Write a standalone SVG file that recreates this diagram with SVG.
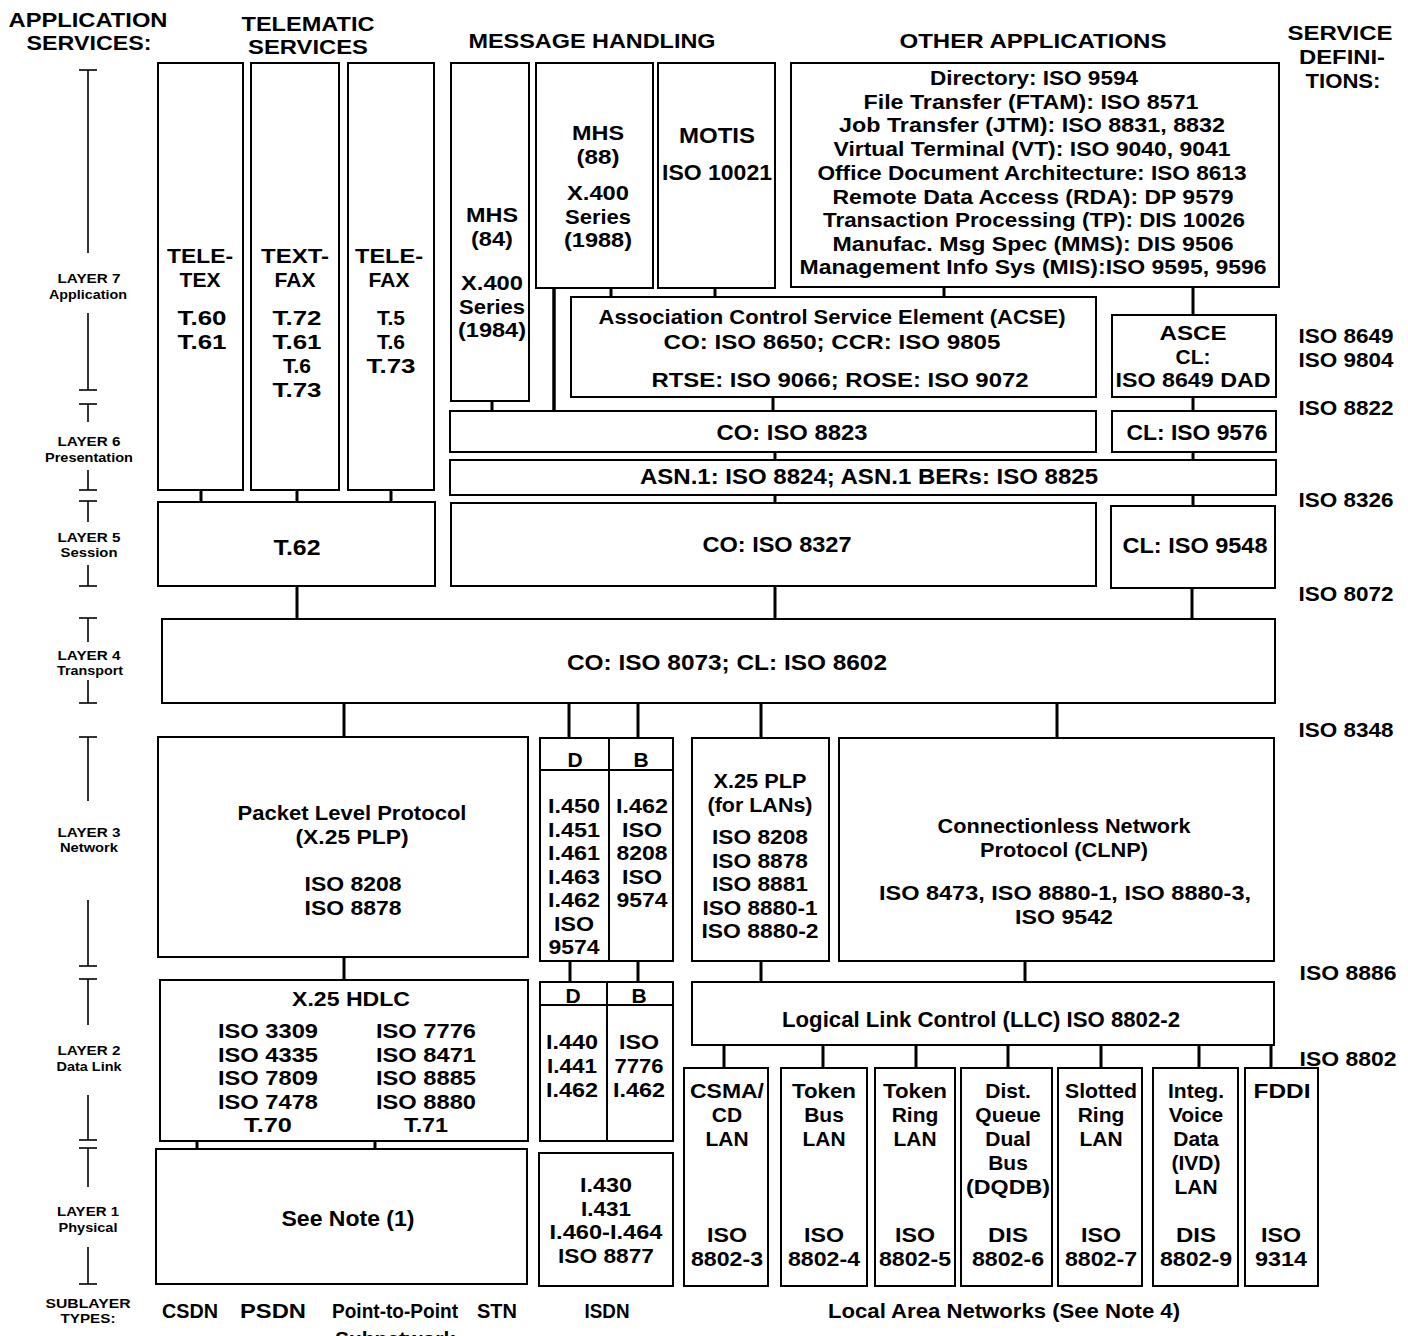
<svg xmlns="http://www.w3.org/2000/svg" width="1408" height="1336" viewBox="0 0 1408 1336">
<style>
text { font-family: "Liberation Sans", Arial, Helvetica, sans-serif; font-weight: bold; fill: #000; text-anchor: middle; font-size: 22px; }
.s { font-size: 21px; }
.hd { font-size: 20px; }
.lay { font-size: 13.5px; }
.box { fill: #fff; stroke: #000; stroke-width: 2; }
.dv { stroke: #000; stroke-width: 2; fill: none; }
.c line { stroke: #000; stroke-width: 3; }
.br line { stroke: #000; stroke-width: 1.6; }
</style>
<rect width="1408" height="1336" fill="#fff"/>

<g id="headers">
  <text class="hd" x="88" y="27" textLength="159" lengthAdjust="spacingAndGlyphs">APPLICATION</text>
  <text class="hd" x="89" y="50" textLength="125" lengthAdjust="spacingAndGlyphs">SERVICES:</text>
  <text class="hd" x="308" y="31" textLength="133" lengthAdjust="spacingAndGlyphs">TELEMATIC</text>
  <text class="hd" x="308" y="54" textLength="120" lengthAdjust="spacingAndGlyphs">SERVICES</text>
  <text class="hd" x="592" y="48" textLength="247" lengthAdjust="spacingAndGlyphs">MESSAGE HANDLING</text>
  <text class="hd" x="1033" y="48" textLength="267" lengthAdjust="spacingAndGlyphs">OTHER APPLICATIONS</text>
  <text class="hd" x="1340" y="40" textLength="105" lengthAdjust="spacingAndGlyphs">SERVICE</text>
  <text class="hd" x="1342" y="64" textLength="86" lengthAdjust="spacingAndGlyphs">DEFINI-</text>
  <text class="hd" x="1343" y="88" textLength="75" lengthAdjust="spacingAndGlyphs">TIONS:</text>
</g>

<g id="layers" class="br">
  <line x1="79" y1="70" x2="97" y2="70"/><line x1="88" y1="70" x2="88" y2="253"/><line x1="88" y1="313" x2="88" y2="390"/><line x1="79" y1="390" x2="97" y2="390"/>
  <line x1="79" y1="404" x2="97" y2="404"/><line x1="88" y1="404" x2="88" y2="422"/><line x1="88" y1="470" x2="88" y2="490"/><line x1="79" y1="490" x2="97" y2="490"/>
  <line x1="79" y1="501" x2="97" y2="501"/><line x1="88" y1="501" x2="88" y2="522"/><line x1="88" y1="565" x2="88" y2="586"/><line x1="79" y1="586" x2="97" y2="586"/>
  <line x1="79" y1="618" x2="97" y2="618"/><line x1="88" y1="618" x2="88" y2="642"/><line x1="88" y1="680" x2="88" y2="703"/><line x1="79" y1="703" x2="97" y2="703"/>
  <line x1="79" y1="737" x2="97" y2="737"/><line x1="88" y1="737" x2="88" y2="801"/><line x1="88" y1="900" x2="88" y2="966"/><line x1="79" y1="966" x2="97" y2="966"/>
  <line x1="79" y1="979" x2="97" y2="979"/><line x1="88" y1="979" x2="88" y2="1025"/><line x1="88" y1="1095" x2="88" y2="1140"/><line x1="79" y1="1140" x2="97" y2="1140"/>
  <line x1="79" y1="1148" x2="97" y2="1148"/><line x1="88" y1="1148" x2="88" y2="1187"/><line x1="88" y1="1247" x2="88" y2="1284"/><line x1="79" y1="1284" x2="97" y2="1284"/>
  <text class="lay" x="89" y="283" textLength="63" lengthAdjust="spacingAndGlyphs">LAYER 7</text><text class="lay" x="88" y="299" textLength="78" lengthAdjust="spacingAndGlyphs">Application</text>
  <text class="lay" x="89" y="446" textLength="63" lengthAdjust="spacingAndGlyphs">LAYER 6</text><text class="lay" x="89" y="462" textLength="88" lengthAdjust="spacingAndGlyphs">Presentation</text>
  <text class="lay" x="89" y="542" textLength="63" lengthAdjust="spacingAndGlyphs">LAYER 5</text><text class="lay" x="89" y="557" textLength="57" lengthAdjust="spacingAndGlyphs">Session</text>
  <text class="lay" x="89" y="660" textLength="63" lengthAdjust="spacingAndGlyphs">LAYER 4</text><text class="lay" x="90" y="675" textLength="66" lengthAdjust="spacingAndGlyphs">Transport</text>
  <text class="lay" x="89" y="837" textLength="63" lengthAdjust="spacingAndGlyphs">LAYER 3</text><text class="lay" x="89" y="852" textLength="58" lengthAdjust="spacingAndGlyphs">Network</text>
  <text class="lay" x="89" y="1055" textLength="63" lengthAdjust="spacingAndGlyphs">LAYER 2</text><text class="lay" x="89" y="1071" textLength="65" lengthAdjust="spacingAndGlyphs">Data Link</text>
  <text class="lay" x="88" y="1216" textLength="62" lengthAdjust="spacingAndGlyphs">LAYER 1</text><text class="lay" x="88" y="1232" textLength="59" lengthAdjust="spacingAndGlyphs">Physical</text>
  <text class="lay" x="88" y="1308" textLength="85" lengthAdjust="spacingAndGlyphs">SUBLAYER</text><text class="lay" x="88" y="1323" textLength="55" lengthAdjust="spacingAndGlyphs">TYPES:</text>
</g>

<g id="connectors" class="c">
  <line x1="201" y1="490" x2="201" y2="502"/>
  <line x1="297" y1="490" x2="297" y2="502"/>
  <line x1="391" y1="490" x2="391" y2="502"/>
  <line x1="492" y1="401" x2="492" y2="411"/>
  <line x1="554" y1="288" x2="554" y2="411" style="stroke-width:3.5"/>
  <line x1="611" y1="288" x2="611" y2="297"/>
  <line x1="715" y1="288" x2="715" y2="297"/>
  <line x1="944" y1="287" x2="944" y2="297"/>
  <line x1="1193" y1="287" x2="1193" y2="315"/>
  <line x1="773" y1="397" x2="773" y2="411"/>
  <line x1="1193" y1="397" x2="1193" y2="411"/>
  <line x1="775" y1="452" x2="775" y2="460"/>
  <line x1="1193" y1="452" x2="1193" y2="460"/>
  <line x1="775" y1="495" x2="775" y2="503"/>
  <line x1="1193" y1="495" x2="1193" y2="506"/>
  <line x1="297" y1="586" x2="297" y2="619"/>
  <line x1="775" y1="586" x2="775" y2="619"/>
  <line x1="1192" y1="588" x2="1192" y2="619"/>
  <line x1="344" y1="703" x2="344" y2="737"/>
  <line x1="569" y1="703" x2="569" y2="738"/>
  <line x1="638" y1="703" x2="638" y2="738"/>
  <line x1="761" y1="703" x2="761" y2="738"/>
  <line x1="1057" y1="703" x2="1057" y2="738"/>
  <line x1="344" y1="957" x2="344" y2="980"/>
  <line x1="570" y1="961" x2="570" y2="982"/>
  <line x1="638" y1="961" x2="638" y2="982"/>
  <line x1="761" y1="961" x2="761" y2="982"/>
  <line x1="1025" y1="961" x2="1025" y2="982"/>
  <line x1="197" y1="1141" x2="197" y2="1149"/>
  <line x1="375" y1="1141" x2="375" y2="1149"/>
  <line x1="724" y1="1045" x2="724" y2="1068"/>
  <line x1="823" y1="1045" x2="823" y2="1068"/>
  <line x1="916" y1="1045" x2="916" y2="1068"/>
  <line x1="1008" y1="1045" x2="1008" y2="1068"/>
  <line x1="1101" y1="1045" x2="1101" y2="1068"/>
  <line x1="1199" y1="1045" x2="1199" y2="1068"/>
  <line x1="1271" y1="1045" x2="1271" y2="1068"/>
</g>

<g id="teletex">
  <rect class="box" x="158" y="63" width="85" height="427"/>
  <text class="s" x="200" y="263" textLength="66" lengthAdjust="spacingAndGlyphs">TELE-</text><text class="s" x="200" y="287">TEX</text>
  <text class="s" x="202" y="325" textLength="49" lengthAdjust="spacingAndGlyphs">T.60</text><text class="s" x="202" y="349" textLength="49" lengthAdjust="spacingAndGlyphs">T.61</text>
</g>
<g id="textfax">
  <rect class="box" x="251" y="63" width="88" height="427"/>
  <text class="s" x="295" y="263" textLength="68" lengthAdjust="spacingAndGlyphs">TEXT-</text><text class="s" x="295" y="287">FAX</text>
  <text class="s" x="297" y="325" textLength="49" lengthAdjust="spacingAndGlyphs">T.72</text><text class="s" x="297" y="349" textLength="49" lengthAdjust="spacingAndGlyphs">T.61</text>
  <text class="s" x="297" y="373">T.6</text><text class="s" x="297" y="397" textLength="49" lengthAdjust="spacingAndGlyphs">T.73</text>
</g>
<g id="telefax">
  <rect class="box" x="348" y="63" width="86" height="427"/>
  <text class="s" x="389" y="263" textLength="68" lengthAdjust="spacingAndGlyphs">TELE-</text><text class="s" x="389" y="287">FAX</text>
  <text class="s" x="391" y="325">T.5</text><text class="s" x="391" y="349">T.6</text>
  <text class="s" x="391" y="373" textLength="49" lengthAdjust="spacingAndGlyphs">T.73</text>
</g>
<g id="t62">
  <rect class="box" x="158" y="502" width="277" height="84"/>
  <text x="297" y="555" textLength="47" lengthAdjust="spacingAndGlyphs">T.62</text>
</g>

<g id="mhs84">
  <rect class="box" x="451" y="63" width="78" height="338"/>
  <text class="s" x="492" y="222" textLength="52" lengthAdjust="spacingAndGlyphs">MHS</text><text class="s" x="492" y="246" textLength="42" lengthAdjust="spacingAndGlyphs">(84)</text>
  <text class="s" x="492" y="290" textLength="62" lengthAdjust="spacingAndGlyphs">X.400</text><text class="s" x="492" y="313.5" textLength="66" lengthAdjust="spacingAndGlyphs">Series</text>
  <text class="s" x="492" y="337" textLength="68" lengthAdjust="spacingAndGlyphs">(1984)</text>
</g>
<g id="mhs88">
  <rect class="box" x="536" y="63" width="117" height="225"/>
  <text class="s" x="598" y="140" textLength="52" lengthAdjust="spacingAndGlyphs">MHS</text><text class="s" x="598" y="163.5" textLength="43" lengthAdjust="spacingAndGlyphs">(88)</text>
  <text class="s" x="598" y="200" textLength="62" lengthAdjust="spacingAndGlyphs">X.400</text><text class="s" x="598" y="223.5" textLength="66" lengthAdjust="spacingAndGlyphs">Series</text>
  <text class="s" x="598" y="247" textLength="68" lengthAdjust="spacingAndGlyphs">(1988)</text>
</g>
<g id="motis">
  <rect class="box" x="658" y="63" width="117" height="225"/>
  <text x="717" y="143" textLength="76" lengthAdjust="spacingAndGlyphs">MOTIS</text>
  <text x="717" y="180" textLength="110" lengthAdjust="spacingAndGlyphs">ISO 10021</text>
</g>
<g id="other-apps">
  <rect class="box" x="791" y="63" width="488" height="224"/>
  <text class="s" x="1034" y="85" textLength="208" lengthAdjust="spacingAndGlyphs">Directory: ISO 9594</text>
  <text class="s" x="1031" y="108.5" textLength="335" lengthAdjust="spacingAndGlyphs">File Transfer (FTAM):  ISO 8571</text>
  <text class="s" x="1032" y="132" textLength="386" lengthAdjust="spacingAndGlyphs">Job Transfer (JTM):  ISO 8831, 8832</text>
  <text class="s" x="1032" y="156" textLength="397" lengthAdjust="spacingAndGlyphs">Virtual Terminal (VT):  ISO 9040, 9041</text>
  <text class="s" x="1032" y="180" textLength="429" lengthAdjust="spacingAndGlyphs">Office Document Architecture:  ISO 8613</text>
  <text class="s" x="1033" y="203.5" textLength="401" lengthAdjust="spacingAndGlyphs">Remote Data Access (RDA):  DP 9579</text>
  <text class="s" x="1034" y="227" textLength="422" lengthAdjust="spacingAndGlyphs">Transaction Processing (TP): DIS 10026</text>
  <text class="s" x="1033" y="250.5" textLength="401" lengthAdjust="spacingAndGlyphs">Manufac. Msg Spec (MMS):  DIS 9506</text>
  <text class="s" x="1033" y="274" textLength="467" lengthAdjust="spacingAndGlyphs">Management Info Sys (MIS):ISO 9595, 9596</text>
</g>
<g id="acse">
  <rect class="box" x="571" y="297" width="525" height="100"/>
  <text class="s" x="832" y="324" textLength="467" lengthAdjust="spacingAndGlyphs">Association Control Service Element (ACSE)</text>
  <text class="s" x="832" y="349" textLength="337" lengthAdjust="spacingAndGlyphs">CO:  ISO 8650;  CCR:  ISO 9805</text>
  <text class="s" x="840" y="387" textLength="377" lengthAdjust="spacingAndGlyphs">RTSE:  ISO 9066; ROSE:  ISO 9072</text>
</g>
<g id="asce-cl">
  <rect class="box" x="1112" y="315" width="164" height="82"/>
  <text class="s" x="1193" y="340" textLength="67" lengthAdjust="spacingAndGlyphs">ASCE</text>
  <text class="s" x="1193" y="363.5">CL:</text>
  <text class="s" x="1193" y="387" textLength="155" lengthAdjust="spacingAndGlyphs">ISO 8649 DAD</text>
</g>
<g id="pres-cl">
  <rect class="box" x="1112" y="411" width="164" height="41"/>
  <text x="1197" y="440" textLength="141" lengthAdjust="spacingAndGlyphs">CL: ISO 9576</text>
</g>
<g id="pres-co">
  <rect class="box" x="450" y="411" width="646" height="41"/>
  <text x="792" y="440" textLength="151" lengthAdjust="spacingAndGlyphs">CO:  ISO 8823</text>
</g>
<g id="asn1">
  <rect class="box" x="450" y="460" width="826" height="35"/>
  <text x="869" y="484" textLength="458" lengthAdjust="spacingAndGlyphs">ASN.1:  ISO 8824;   ASN.1 BERs:  ISO 8825</text>
</g>
<g id="session-co">
  <rect class="box" x="451" y="503" width="645" height="83"/>
  <text x="777" y="552" textLength="149" lengthAdjust="spacingAndGlyphs">CO:  ISO 8327</text>
</g>
<g id="session-cl">
  <rect class="box" x="1111" y="506" width="164" height="82"/>
  <text x="1195" y="553" textLength="145" lengthAdjust="spacingAndGlyphs">CL:  ISO 9548</text>
</g>
<g id="transport">
  <rect class="box" x="162" y="619" width="1113" height="84"/>
  <text x="727" y="670" textLength="320" lengthAdjust="spacingAndGlyphs">CO:  ISO 8073;   CL:  ISO 8602</text>
</g>

<g id="plp">
  <rect class="box" x="158" y="737" width="370" height="220"/>
  <text class="s" x="352" y="820" textLength="229" lengthAdjust="spacingAndGlyphs">Packet Level Protocol</text>
  <text class="s" x="352" y="843.5" textLength="113" lengthAdjust="spacingAndGlyphs">(X.25 PLP)</text>
  <text class="s" x="353" y="891" textLength="97" lengthAdjust="spacingAndGlyphs">ISO 8208</text>
  <text class="s" x="353" y="914.5" textLength="97" lengthAdjust="spacingAndGlyphs">ISO 8878</text>
</g>
<g id="isdn-net">
  <rect class="box" x="540" y="738" width="133" height="223"/>
  <line class="dv" x1="540" y1="770" x2="673" y2="770"/>
  <line class="dv" x1="609" y1="738" x2="609" y2="961"/>
  <text class="s" x="575" y="767">D</text><text class="s" x="641" y="767">B</text>
  <text class="s" x="574" y="813" textLength="52" lengthAdjust="spacingAndGlyphs">I.450</text><text class="s" x="574" y="836.5" textLength="52" lengthAdjust="spacingAndGlyphs">I.451</text>
  <text class="s" x="574" y="860" textLength="52" lengthAdjust="spacingAndGlyphs">I.461</text><text class="s" x="574" y="883.5" textLength="52" lengthAdjust="spacingAndGlyphs">I.463</text>
  <text class="s" x="574" y="907" textLength="52" lengthAdjust="spacingAndGlyphs">I.462</text><text class="s" x="574" y="930.5" textLength="40" lengthAdjust="spacingAndGlyphs">ISO</text>
  <text class="s" x="574" y="954" textLength="51" lengthAdjust="spacingAndGlyphs">9574</text>
  <text class="s" x="642" y="813" textLength="52" lengthAdjust="spacingAndGlyphs">I.462</text><text class="s" x="642" y="836.5" textLength="40" lengthAdjust="spacingAndGlyphs">ISO</text>
  <text class="s" x="642" y="860" textLength="51" lengthAdjust="spacingAndGlyphs">8208</text><text class="s" x="642" y="883.5" textLength="40" lengthAdjust="spacingAndGlyphs">ISO</text>
  <text class="s" x="642" y="907" textLength="51" lengthAdjust="spacingAndGlyphs">9574</text>
</g>
<g id="x25-lan">
  <rect class="box" x="692" y="738" width="137" height="223"/>
  <text class="s" x="760" y="788" textLength="93" lengthAdjust="spacingAndGlyphs">X.25 PLP</text>
  <text class="s" x="760" y="811.5" textLength="105" lengthAdjust="spacingAndGlyphs">(for LANs)</text>
  <text class="s" x="760" y="844" textLength="96" lengthAdjust="spacingAndGlyphs">ISO 8208</text>
  <text class="s" x="760" y="867.5" textLength="96" lengthAdjust="spacingAndGlyphs">ISO 8878</text>
  <text class="s" x="760" y="891" textLength="96" lengthAdjust="spacingAndGlyphs">ISO 8881</text>
  <text class="s" x="760" y="914.5" textLength="115" lengthAdjust="spacingAndGlyphs">ISO 8880-1</text>
  <text class="s" x="760" y="938" textLength="117" lengthAdjust="spacingAndGlyphs">ISO 8880-2</text>
</g>
<g id="clnp">
  <rect class="box" x="839" y="738" width="435" height="223"/>
  <text class="s" x="1064" y="833" textLength="253" lengthAdjust="spacingAndGlyphs">Connectionless Network</text>
  <text class="s" x="1064" y="856.5" textLength="168" lengthAdjust="spacingAndGlyphs">Protocol (CLNP)</text>
  <text class="s" x="1065" y="900" textLength="372" lengthAdjust="spacingAndGlyphs">ISO 8473, ISO 8880-1, ISO 8880-3,</text>
  <text class="s" x="1064" y="923.5" textLength="98" lengthAdjust="spacingAndGlyphs">ISO 9542</text>
</g>

<g id="hdlc">
  <rect class="box" x="160" y="980" width="368" height="161"/>
  <text class="s" x="351" y="1006" textLength="118" lengthAdjust="spacingAndGlyphs">X.25 HDLC</text>
  <text class="s" x="268" y="1038" textLength="100" lengthAdjust="spacingAndGlyphs">ISO 3309</text><text class="s" x="268" y="1061.5" textLength="100" lengthAdjust="spacingAndGlyphs">ISO 4335</text>
  <text class="s" x="268" y="1085" textLength="100" lengthAdjust="spacingAndGlyphs">ISO 7809</text><text class="s" x="268" y="1108.5" textLength="100" lengthAdjust="spacingAndGlyphs">ISO 7478</text>
  <text class="s" x="268" y="1132" textLength="48" lengthAdjust="spacingAndGlyphs">T.70</text>
  <text class="s" x="426" y="1038" textLength="100" lengthAdjust="spacingAndGlyphs">ISO 7776</text><text class="s" x="426" y="1061.5" textLength="100" lengthAdjust="spacingAndGlyphs">ISO 8471</text>
  <text class="s" x="426" y="1085" textLength="100" lengthAdjust="spacingAndGlyphs">ISO 8885</text><text class="s" x="426" y="1108.5" textLength="100" lengthAdjust="spacingAndGlyphs">ISO 8880</text>
  <text class="s" x="426" y="1132" textLength="44" lengthAdjust="spacingAndGlyphs">T.71</text>
</g>
<g id="isdn-dl">
  <rect class="box" x="540" y="982" width="133" height="159"/>
  <line class="dv" x1="540" y1="1005" x2="673" y2="1005"/>
  <line class="dv" x1="607" y1="982" x2="607" y2="1141"/>
  <text class="s" x="573" y="1003">D</text><text class="s" x="639" y="1003">B</text>
  <text class="s" x="572" y="1049" textLength="52" lengthAdjust="spacingAndGlyphs">I.440</text><text class="s" x="572" y="1073" textLength="50" lengthAdjust="spacingAndGlyphs">I.441</text>
  <text class="s" x="572" y="1097" textLength="52" lengthAdjust="spacingAndGlyphs">I.462</text>
  <text class="s" x="639" y="1049" textLength="40" lengthAdjust="spacingAndGlyphs">ISO</text><text class="s" x="639" y="1073" textLength="49" lengthAdjust="spacingAndGlyphs">7776</text>
  <text class="s" x="639" y="1097" textLength="52" lengthAdjust="spacingAndGlyphs">I.462</text>
</g>
<g id="llc">
  <rect class="box" x="692" y="982" width="582" height="63"/>
  <text x="981" y="1027" textLength="398" lengthAdjust="spacingAndGlyphs">Logical Link Control (LLC)  ISO 8802-2</text>
</g>

<g id="phys-note">
  <rect class="box" x="156" y="1149" width="371" height="135"/>
  <text x="348" y="1226" textLength="133" lengthAdjust="spacingAndGlyphs">See Note (1)</text>
</g>
<g id="isdn-phys">
  <rect class="box" x="539" y="1153" width="134" height="133"/>
  <text class="s" x="606" y="1192" textLength="52" lengthAdjust="spacingAndGlyphs">I.430</text>
  <text class="s" x="606" y="1215.5" textLength="50" lengthAdjust="spacingAndGlyphs">I.431</text>
  <text class="s" x="606" y="1239" textLength="113" lengthAdjust="spacingAndGlyphs">I.460-I.464</text>
  <text class="s" x="606" y="1262.5" textLength="96" lengthAdjust="spacingAndGlyphs">ISO 8877</text>
</g>
<g id="csma-cd">
  <rect class="box" x="684" y="1068" width="84" height="218"/>
  <text class="s" x="727" y="1098" textLength="74" lengthAdjust="spacingAndGlyphs">CSMA/</text><text class="s" x="727" y="1122">CD</text><text class="s" x="727" y="1146" textLength="43" lengthAdjust="spacingAndGlyphs">LAN</text>
  <text class="s" x="727" y="1242" textLength="40" lengthAdjust="spacingAndGlyphs">ISO</text><text class="s" x="727" y="1266" textLength="72" lengthAdjust="spacingAndGlyphs">8802-3</text>
</g>
<g id="token-bus">
  <rect class="box" x="781" y="1068" width="86" height="218"/>
  <text class="s" x="824" y="1098" textLength="64" lengthAdjust="spacingAndGlyphs">Token</text><text class="s" x="824" y="1122">Bus</text><text class="s" x="824" y="1146" textLength="43" lengthAdjust="spacingAndGlyphs">LAN</text>
  <text class="s" x="824" y="1242" textLength="40" lengthAdjust="spacingAndGlyphs">ISO</text><text class="s" x="824" y="1266" textLength="72" lengthAdjust="spacingAndGlyphs">8802-4</text>
</g>
<g id="token-ring">
  <rect class="box" x="875" y="1068" width="80" height="218"/>
  <text class="s" x="915" y="1098" textLength="64" lengthAdjust="spacingAndGlyphs">Token</text><text class="s" x="915" y="1122">Ring</text><text class="s" x="915" y="1146" textLength="43" lengthAdjust="spacingAndGlyphs">LAN</text>
  <text class="s" x="915" y="1242" textLength="40" lengthAdjust="spacingAndGlyphs">ISO</text><text class="s" x="915" y="1266" textLength="72" lengthAdjust="spacingAndGlyphs">8802-5</text>
</g>
<g id="dqdb">
  <rect class="box" x="961" y="1068" width="91" height="218"/>
  <text class="s" x="1008" y="1098">Dist.</text><text class="s" x="1008" y="1122">Queue</text><text class="s" x="1008" y="1146">Dual</text>
  <text class="s" x="1008" y="1170">Bus</text><text class="s" x="1008" y="1194" textLength="84" lengthAdjust="spacingAndGlyphs">(DQDB)</text>
  <text class="s" x="1008" y="1242" textLength="40" lengthAdjust="spacingAndGlyphs">DIS</text><text class="s" x="1008" y="1266" textLength="72" lengthAdjust="spacingAndGlyphs">8802-6</text>
</g>
<g id="slotted-ring">
  <rect class="box" x="1058" y="1068" width="84" height="218"/>
  <text class="s" x="1101" y="1098" textLength="72" lengthAdjust="spacingAndGlyphs">Slotted</text><text class="s" x="1101" y="1122">Ring</text><text class="s" x="1101" y="1146" textLength="43" lengthAdjust="spacingAndGlyphs">LAN</text>
  <text class="s" x="1101" y="1242" textLength="40" lengthAdjust="spacingAndGlyphs">ISO</text><text class="s" x="1101" y="1266" textLength="72" lengthAdjust="spacingAndGlyphs">8802-7</text>
</g>
<g id="ivd">
  <rect class="box" x="1153" y="1068" width="85" height="218"/>
  <text class="s" x="1196" y="1098">Integ.</text><text class="s" x="1196" y="1122">Voice</text><text class="s" x="1196" y="1146">Data</text>
  <text class="s" x="1196" y="1170">(IVD)</text><text class="s" x="1196" y="1194" textLength="43" lengthAdjust="spacingAndGlyphs">LAN</text>
  <text class="s" x="1196" y="1242" textLength="40" lengthAdjust="spacingAndGlyphs">DIS</text><text class="s" x="1196" y="1266" textLength="72" lengthAdjust="spacingAndGlyphs">8802-9</text>
</g>
<g id="fddi">
  <rect class="box" x="1245" y="1068" width="73" height="218"/>
  <text class="s" x="1282" y="1098" textLength="57" lengthAdjust="spacingAndGlyphs">FDDI</text>
  <text class="s" x="1281" y="1242" textLength="40" lengthAdjust="spacingAndGlyphs">ISO</text><text class="s" x="1281" y="1266" textLength="52" lengthAdjust="spacingAndGlyphs">9314</text>
</g>

<g id="service-defs">
  <text class="s" x="1346" y="343" textLength="95" lengthAdjust="spacingAndGlyphs">ISO 8649</text>
  <text class="s" x="1346" y="367" textLength="95" lengthAdjust="spacingAndGlyphs">ISO 9804</text>
  <text class="s" x="1346" y="415" textLength="95" lengthAdjust="spacingAndGlyphs">ISO 8822</text>
  <text class="s" x="1346" y="507" textLength="95" lengthAdjust="spacingAndGlyphs">ISO 8326</text>
  <text class="s" x="1346" y="601" textLength="95" lengthAdjust="spacingAndGlyphs">ISO 8072</text>
  <text class="s" x="1346" y="737" textLength="95" lengthAdjust="spacingAndGlyphs">ISO 8348</text>
  <text class="s" x="1348" y="980" textLength="97" lengthAdjust="spacingAndGlyphs">ISO 8886</text>
  <text class="s" x="1348" y="1066" textLength="97" lengthAdjust="spacingAndGlyphs">ISO 8802</text>
</g>

<g id="sublayer-types">
  <text class="s" x="190" y="1318" textLength="56" lengthAdjust="spacingAndGlyphs">CSDN</text>
  <text class="s" x="273" y="1318" textLength="66" lengthAdjust="spacingAndGlyphs">PSDN</text>
  <text class="s" x="395" y="1318" textLength="126" lengthAdjust="spacingAndGlyphs">Point-to-Point</text>
  <text class="s" x="395" y="1346">Subnetwork</text>
  <text class="s" x="497" y="1318" textLength="40" lengthAdjust="spacingAndGlyphs">STN</text>
  <text class="s" x="607" y="1318" textLength="45" lengthAdjust="spacingAndGlyphs">ISDN</text>
  <text class="s" x="1004" y="1318" textLength="352" lengthAdjust="spacingAndGlyphs">Local Area Networks (See Note 4)</text>
</g>
</svg>
